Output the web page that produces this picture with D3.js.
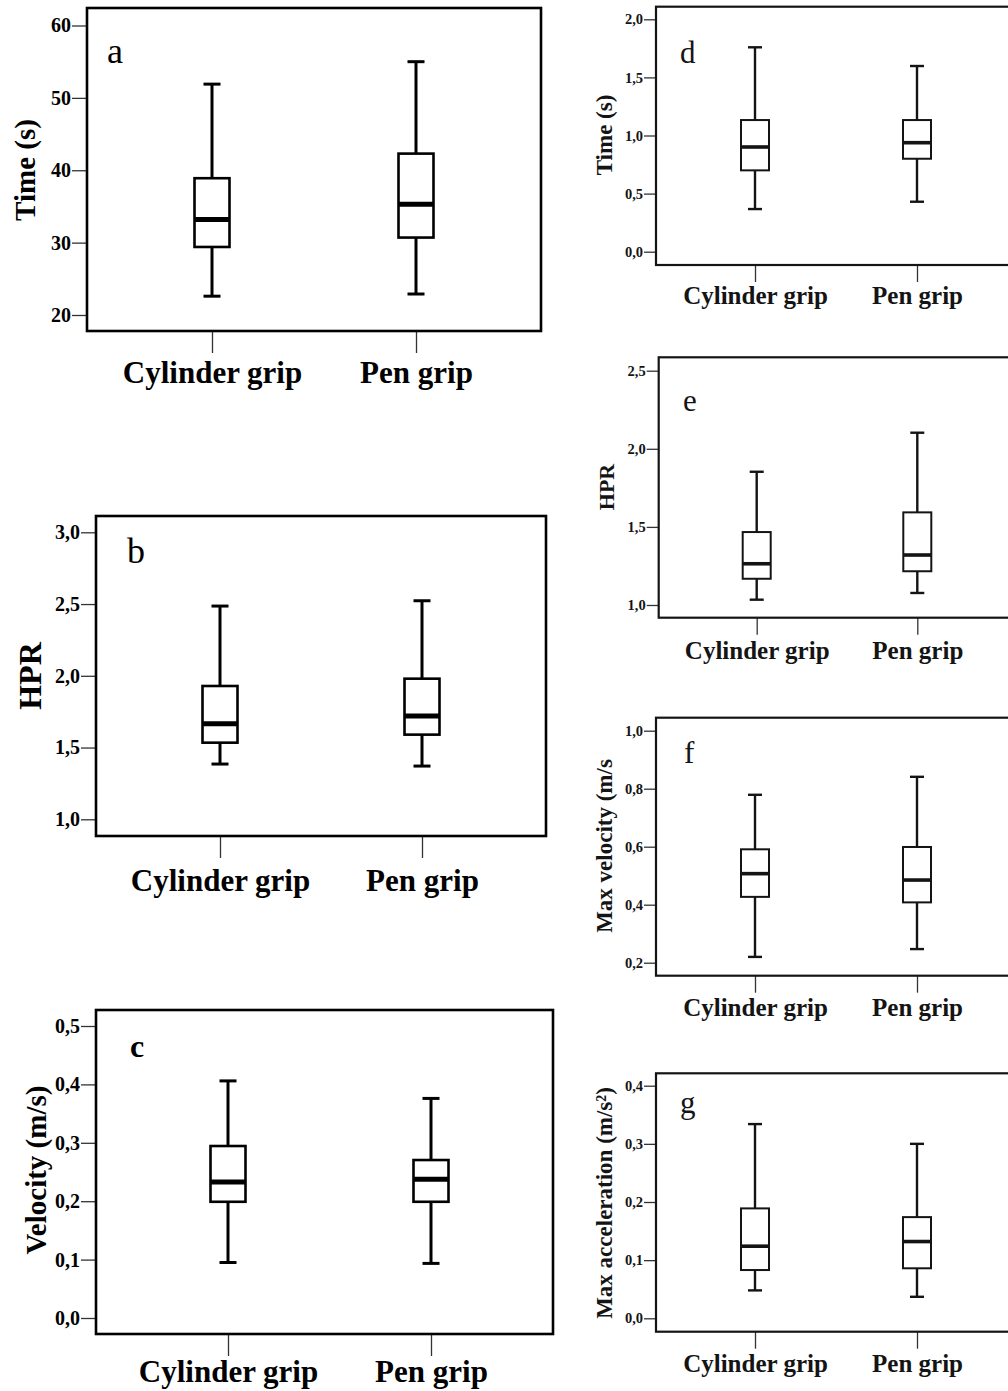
<!DOCTYPE html>
<html>
<head>
<meta charset="utf-8">
<script src="https://cdn.jsdelivr.net/npm/d3@7"></script>
<style>
  html, body { margin: 0; padding: 0; background: #fff; }
  svg { display: block; }
</style>
</head>
<body>
<div id="chart"></div>
<script>
/* Seven box plots: cylinder grip vs pen grip (panels a-g). */
const categories = ["Cylinder grip", "Pen grip"];

// five-number summaries: [min, q1, median, q3, max]
const timeTotalCyl = [22.6, 29.4, 33.2, 38.9, 51.9];
const timeTotalPen = [22.9, 30.7, 35.3, 42.3, 55.0];
const hprTotalCyl = [1.385, 1.534, 1.666, 1.929, 2.486];
const hprTotalPen = [1.371, 1.59, 1.72, 1.98, 2.523];
const velocityCyl = [0.095, 0.199, 0.233, 0.2945, 0.406];
const velocityPen = [0.0935, 0.199, 0.2375, 0.2705, 0.376];
const timeSubCyl = [0.367, 0.70, 0.901, 1.133, 1.759];
const timeSubPen = [0.43, 0.80, 0.938, 1.133, 1.598];
const hprSubCyl = [1.034, 1.168, 1.264, 1.467, 1.853];
const hprSubPen = [1.077, 1.216, 1.32, 1.593, 2.103];
const maxVelCyl = [0.22, 0.427, 0.507, 0.591, 0.779];
const maxVelPen = [0.247, 0.408, 0.485, 0.599, 0.841];
const maxAccCyl = [0.048, 0.083, 0.124, 0.189, 0.334];
const maxAccPen = [0.037, 0.086, 0.132, 0.174, 0.30];

// y tick values per panel
const ticksA = [20, 30, 40, 50, 60];
const ticksB = [1.0, 1.5, 2.0, 2.5, 3.0];
const ticksC = [0.0, 0.1, 0.2, 0.3, 0.4, 0.5];
const ticksD = [0.0, 0.5, 1.0, 1.5, 2.0];
const ticksE = [1.0, 1.5, 2.0, 2.5];
const ticksF = [0.2, 0.4, 0.6, 0.8, 1.0];
const ticksG = [0.0, 0.1, 0.2, 0.3, 0.4];

const W = 1008, H = 1391;
const svg = d3.select("#chart").append("svg").attr("width", W).attr("height", H);

const serif = "'Liberation Serif', 'Times New Roman', serif";
const big = { box: 2.6, whisk: 3, med: 5, cap: 8.5, half: 17.5, frame: 2.6,
  tickFont: 20, catFont: 31, letterFont: 36, tickLen: 15, catTick: 22, color: "#000" };
const small = { box: 2, whisk: 2.4, med: 3.6, cap: 7, half: 14, frame: 2.2,
  tickFont: 14.5, catFont: 25, letterFont: 31, tickLen: 12, catTick: 17, color: "#141414" };

const intFmt = d3.format("d");
const commaFmt = v => d3.format(".1f")(v).replace(".", ",");

const panels = [
  { letter: "a", label: "Time (s)", yFont: 29, data: [timeTotalCyl, timeTotalPen], ticks: ticksA, fmt: intFmt,
    frame: [87, 8, 541, 331], yPx: [315, 25.5], xs: [212, 416], letterXY: [107, 63], yLab: [25, 170], catBase: 383, st: big },
  { letter: "b", label: "HPR", yFont: 32, data: [hprTotalCyl, hprTotalPen], ticks: ticksB, fmt: commaFmt,
    frame: [96, 516, 546, 836], yPx: [819.3, 532.3], xs: [220, 422], letterXY: [127, 563], yLab: [30, 676], catBase: 891, st: big },
  { letter: "c", label: "Velocity (m/s)", yFont: 29, data: [velocityCyl, velocityPen], ticks: ticksC, fmt: commaFmt,
    frame: [96, 1010, 553, 1334], yPx: [1318, 1026], xs: [228, 431], letterXY: [130, 1057], yLab: [36, 1170], catBase: 1382, st: big,
    letterBold: true, letterFont: 32 },
  { letter: "d", label: "Time (s)", yFont: 23, data: [timeSubCyl, timeSubPen], ticks: ticksD, fmt: commaFmt,
    frame: [656, 6.7, 1012, 265], yPx: [251.7, 19.3], xs: [755, 917], letterXY: [680, 63], yLab: [604, 135], catBase: 304, st: small },
  { letter: "e", label: "HPR", yFont: 22, data: [hprSubCyl, hprSubPen], ticks: ticksE, fmt: commaFmt,
    frame: [658.7, 357.3, 1012, 617.7], yPx: [605, 370.7], xs: [756.7, 917.3], letterXY: [683, 411], yLab: [606, 487], catBase: 659, st: small },
  { letter: "f", label: "Max velocity (m/s", yFont: 23, data: [maxVelCyl, maxVelPen], ticks: ticksF, fmt: commaFmt,
    frame: [656, 717.7, 1012, 975.7], yPx: [962.7, 730.7], xs: [755, 917], letterXY: [684, 763], yLab: [604, 846], catBase: 1016, st: small },
  { letter: "g", label: "Max acceleration (m/s²)", yFont: 23, data: [maxAccCyl, maxAccPen], ticks: ticksG, fmt: commaFmt,
    frame: [656, 1073.3, 1012, 1331.7], yPx: [1318.3, 1085.7], xs: [755, 917], letterXY: [680, 1113], yLab: [604, 1203], catBase: 1372, st: small },
];

panels.forEach(p => {
  const st = p.st;
  const [x0, y0, x1, y1] = p.frame;
  const g = svg.append("g");

  const y = d3.scaleLinear()
    .domain([p.ticks[0], p.ticks[p.ticks.length - 1]])
    .range(p.yPx);
  const x = d3.scalePoint().domain(categories).range(p.xs);

  // y axis: ticks outside the frame, no domain line
  g.append("g")
    .attr("transform", `translate(${x0},0)`)
    .call(d3.axisLeft(y).tickValues(p.ticks).tickFormat(p.fmt).tickSize(st.tickLen).tickPadding(1))
    .call(a => a.select(".domain").remove())
    .call(a => a.selectAll("line").attr("stroke", "#333").attr("stroke-width", 1.3))
    .call(a => a.selectAll("text")
      .attr("font-family", serif)
      .attr("font-weight", "bold").attr("font-size", st.tickFont).attr("fill", st.color));

  // x axis: category ticks hanging below frame
  g.append("g")
    .attr("transform", `translate(0,${y1})`)
    .call(d3.axisBottom(x).tickSize(st.catTick))
    .call(a => a.select(".domain").remove())
    .call(a => a.selectAll("line").attr("stroke", "#333").attr("stroke-width", 1.3))
    .call(a => a.selectAll("text")
      .attr("y", p.catBase - y1).attr("dy", null)
      .attr("font-family", serif)
      .attr("font-weight", "bold").attr("font-size", st.catFont).attr("fill", st.color));

  // frame
  g.append("rect")
    .attr("x", x0).attr("y", y0).attr("width", x1 - x0).attr("height", y1 - y0)
    .attr("fill", "none").attr("stroke", st.color).attr("stroke-width", st.frame);

  // boxes
  const boxes = g.selectAll("g.box").data(p.data.map((d, i) => ({ cat: categories[i], s: d })))
    .join("g").attr("class", "box");

  boxes.append("line")
    .attr("x1", d => x(d.cat)).attr("x2", d => x(d.cat))
    .attr("y1", d => y(d.s[0])).attr("y2", d => y(d.s[1]))
    .attr("stroke", st.color).attr("stroke-width", st.whisk);
  boxes.append("line")
    .attr("x1", d => x(d.cat)).attr("x2", d => x(d.cat))
    .attr("y1", d => y(d.s[3])).attr("y2", d => y(d.s[4]))
    .attr("stroke", st.color).attr("stroke-width", st.whisk);
  [0, 4].forEach(k => {
    boxes.append("line")
      .attr("x1", d => x(d.cat) - st.cap).attr("x2", d => x(d.cat) + st.cap)
      .attr("y1", d => y(d.s[k])).attr("y2", d => y(d.s[k]))
      .attr("stroke", st.color).attr("stroke-width", st.whisk);
  });
  boxes.append("rect")
    .attr("x", d => x(d.cat) - st.half).attr("width", st.half * 2)
    .attr("y", d => y(d.s[3])).attr("height", d => y(d.s[1]) - y(d.s[3]))
    .attr("fill", "#fff").attr("stroke", st.color).attr("stroke-width", st.box);
  boxes.append("line")
    .attr("x1", d => x(d.cat) - st.half).attr("x2", d => x(d.cat) + st.half)
    .attr("y1", d => y(d.s[2])).attr("y2", d => y(d.s[2]))
    .attr("stroke", st.color).attr("stroke-width", st.med);

  // panel letter
  g.append("text")
    .attr("x", p.letterXY[0]).attr("y", p.letterXY[1])
    .attr("font-family", serif)
    .attr("font-weight", p.letterBold ? "bold" : "normal")
    .attr("font-size", p.letterFont || st.letterFont).attr("fill", st.color)
    .text(p.letter);

  // y label
  g.append("text")
    .attr("transform", `translate(${p.yLab[0]},${p.yLab[1]}) rotate(-90)`)
    .attr("text-anchor", "middle").attr("dy", "0.35em")
    .attr("font-family", serif)
    .attr("font-weight", "bold").attr("font-size", p.yFont).attr("fill", st.color)
    .text(p.label);
});
</script>
</body>
</html>
